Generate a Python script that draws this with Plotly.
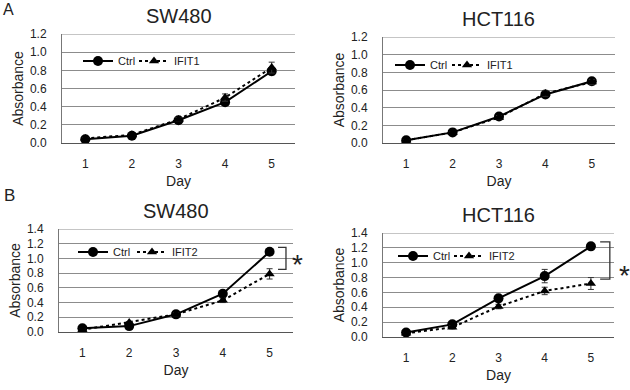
import plotly.graph_objects as go

days = [1, 2, 3, 4, 5]
day_labels = ["1", "2", "3", "4", "5"]

# Panel A
a_sw_ctrl = [0.04, 0.08, 0.25, 0.45, 0.79]
a_sw_ctrl_err = [0.01, 0.01, 0.02, 0.03, 0.04]
a_sw_ifit1 = [0.05, 0.09, 0.26, 0.50, 0.83]
a_sw_ifit1_err = [0.01, 0.01, 0.02, 0.04, 0.06]
a_hct_ctrl = [0.03, 0.12, 0.30, 0.55, 0.70]
a_hct_ctrl_err = [0.01, 0.01, 0.02, 0.03, 0.03]
a_hct_ifit1 = [0.03, 0.12, 0.29, 0.56, 0.69]
a_hct_ifit1_err = [0.01, 0.01, 0.02, 0.03, 0.03]

# Panel B
b_sw_ctrl = [0.05, 0.08, 0.24, 0.52, 1.09]
b_sw_ctrl_err = [0.01, 0.01, 0.02, 0.03, 0.03]
b_sw_ifit2 = [0.03, 0.13, 0.24, 0.43, 0.79]
b_sw_ifit2_err = [0.01, 0.01, 0.02, 0.03, 0.07]
b_hct_ctrl = [0.06, 0.17, 0.52, 0.82, 1.22]
b_hct_ctrl_err = [0.01, 0.02, 0.03, 0.09, 0.03]
b_hct_ifit2 = [0.05, 0.13, 0.41, 0.62, 0.72]
b_hct_ifit2_err = [0.01, 0.02, 0.03, 0.05, 0.08]

titles = ["SW480", "HCT116", "SW480", "HCT116"]
W, H = 630, 390
FONT = "Liberation Sans, Arial, sans-serif"
GRID = "#8c8c8c"

# (ctrl, err, kd, err, name, x px, y px (top,bottom), ymax, legend ctrl x, legend kd x, legend y)
panels = [
    (a_sw_ctrl, a_sw_ctrl_err, a_sw_ifit1, a_sw_ifit1_err, "IFIT1", (62, 295), (34, 143), 1.2, 78, 134, 61),
    (a_hct_ctrl, a_hct_ctrl_err, a_hct_ifit1, a_hct_ifit1_err, "IFIT1", (383, 615), (37, 143), 1.2, 390, 447, 65),
    (b_sw_ctrl, b_sw_ctrl_err, b_sw_ifit2, b_sw_ifit2_err, "IFIT2", (59, 293), (229, 332), 1.4, 73, 132, 252),
    (b_hct_ctrl, b_hct_ctrl_err, b_hct_ifit2, b_hct_ifit2_err, "IFIT2", (383, 614), (233, 337), 1.4, 393, 449, 256),
]

fig = go.Figure()
layout = dict(
    width=W, height=H, margin=dict(l=0, r=0, t=0, b=0, autoexpand=False),
    paper_bgcolor="white", plot_bgcolor="white",
    font=dict(family=FONT, color="#222"),
    showlegend=True,
)
annotations = []
shapes = []

for i, (ctrl, ce, kd, ke, kdname, xr, yr, ymax, lcx, lkx, ly) in enumerate(panels):
    n = "" if i == 0 else str(i + 1)
    xa, ya = "x" + n, "y" + n
    lg1 = "legend" + ("" if i == 0 else str(2 * i + 1))
    lg2 = "legend" + str(2 * i + 2)
    fig.add_trace(go.Scatter(
        x=days, y=ctrl, name="Ctrl", xaxis=xa, yaxis=ya, legend=lg1,
        mode="lines+markers", line=dict(color="black", width=2),
        marker=dict(symbol="circle", size=10, color="black"),
        error_y=dict(type="data", array=ce, color="#333", thickness=1, width=3),
    ))
    fig.add_trace(go.Scatter(
        x=days, y=kd, name=kdname, xaxis=xa, yaxis=ya, legend=lg2,
        mode="lines+markers", line=dict(color="black", width=2, dash="dot"),
        marker=dict(symbol="triangle-up", size=9, color="black"),
        error_y=dict(type="data", array=ke, color="#333", thickness=1, width=3),
    ))
    xd = [xr[0] / W, xr[1] / W]
    yd = [1 - yr[1] / H, 1 - yr[0] / H]
    layout["xaxis" + n] = dict(
        domain=xd, anchor=ya, range=[0.5, 5.5], tickvals=days, ticktext=day_labels,
        showgrid=False, zeroline=False, showline=True, linecolor="#555", linewidth=1,
        ticks="", ticklabelstandoff=10, tickfont=dict(size=12, color="#222"),
        title=dict(text="Day", font=dict(size=14, color="#222"), standoff=5),
        automargin=False, fixedrange=True,
    )
    layout["yaxis" + n] = dict(
        domain=yd, anchor=xa, range=[0, ymax], dtick=0.2, tickformat=".1f",
        showgrid=True, gridcolor=GRID, gridwidth=1, zeroline=False,
        showline=True, linecolor="#777", linewidth=1,
        ticks="", ticklabelstandoff=12, tickfont=dict(size=12, color="#222"),
        title=dict(text="Absorbance", font=dict(size=14, color="#222"), standoff=3),
        automargin=False, fixedrange=True,
    )
    shapes.append(dict(type="line", xref=xa + " domain", yref=ya, x0=0, x1=1, y0=ymax, y1=ymax,
                       line=dict(color=GRID, width=1)))
    for lg, lx in [(lg1, lcx), (lg2, lkx)]:
        layout[lg] = dict(
            x=lx / W, y=1 - ly / H, xanchor="left", yanchor="middle",
            orientation="h", bgcolor="rgba(0,0,0,0)", borderwidth=0,
            font=dict(size=11, color="#222"), itemwidth=30,
        )
    annotations.append(dict(
        text=titles[i], xref=xa + " domain", yref=ya + " domain", x=0.5, y=1,
        yshift=18, showarrow=False, font=dict(size=20, color="#222"), yanchor="middle",
    ))

annotations.append(dict(text="A", xref="paper", yref="paper", x=1 / W, y=1 - 9 / H,
                        xanchor="left", yanchor="middle", showarrow=False,
                        font=dict(size=16, color="#222")))
annotations.append(dict(text="B", xref="paper", yref="paper", x=2 / W, y=1 - 195 / H,
                        xanchor="left", yanchor="middle", showarrow=False,
                        font=dict(size=17, color="#222")))

# Significance brackets on day 5 (panel B)
for n, ctrl, kd, bx, tx, ax, aoff in [("3", b_sw_ctrl, b_sw_ifit2, 5.35, 5.18, 1.052, 0.0),
                                       ("4", b_hct_ctrl, b_hct_ifit2, 5.41, 5.2, 1.08, -0.12)]:
    top = ctrl[-1] + 0.06
    bot = kd[-1] + 0.06
    xa, ya = "x" + n, "y" + n
    path = f"M {tx},{top} L {bx},{top} L {bx},{bot} L {tx},{bot}"
    shapes.append(dict(type="path", xref=xa, yref=ya, path=path,
                       line=dict(color="#333", width=1.3)))
    annotations.append(dict(text="*", xref=xa + " domain", yref=ya, x=ax, y=(top + bot) / 2 + aoff,
                            showarrow=False, font=dict(size=28, color="#222"),
                            yshift=-6))

layout["annotations"] = annotations
layout["shapes"] = shapes
fig.update_layout(**layout)
fig.write_html("out.html", config={"displayModeBar": False},
               post_script="document.body.style.margin='0';document.body.style.padding='0';")
